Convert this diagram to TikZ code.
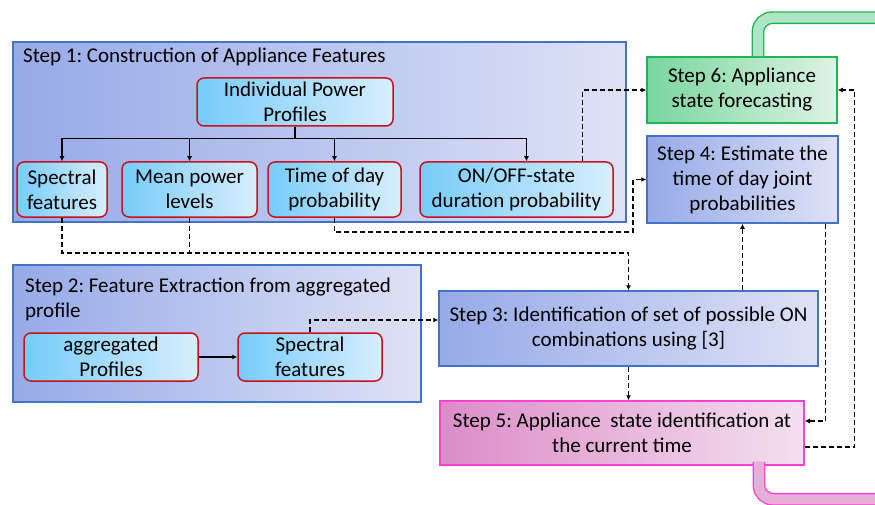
\documentclass[tikz,border=0pt]{standalone}
\usepackage{fontspec}
\setmainfont{Carlito}
\frenchspacing
\usetikzlibrary{positioning,calc,arrows.meta}

\definecolor{frameblue}{RGB}{68,114,196}
\definecolor{frameL}{RGB}{150,170,232}
\definecolor{frameR}{RGB}{222,226,246}
\definecolor{featred}{RGB}{200,16,30}
\definecolor{featL}{RGB}{118,204,250}
\definecolor{featR}{RGB}{216,238,253}
\definecolor{fcgreen}{RGB}{34,178,86}
\definecolor{fcgreenL}{RGB}{120,214,158}
\definecolor{fcgreenR}{RGB}{222,243,228}
\definecolor{idpink}{RGB}{255,64,208}
\definecolor{idpinkL}{RGB}{220,140,200}
\definecolor{idpinkR}{RGB}{244,224,240}

\begin{document}
\begin{tikzpicture}[x=1pt,y=-1pt,font=\fontsize{21}{25}\selectfont,
    frame/.style={draw=frameblue,line width=1.5pt,left color=frameL,right color=frameR,inner sep=0pt},
    feat/.style={draw=featred,line width=1.5pt,rounded corners=7pt,left color=featL,right color=featR,align=center,inner sep=0pt},
    flow/.style={line width=1.3pt,-{Latex[length=5pt,width=5pt]}},
    dflow/.style={flow,dash pattern=on 5pt off 3pt},
    dline/.style={line width=1.3pt,dash pattern=on 5pt off 3pt},
    pipe/.style={line width=1.4pt,double distance=10pt,rounded corners=14pt}]

\useasboundingbox (0,0) rectangle (875,505);

% step 1
\node[frame,minimum width=613pt,minimum height=180pt] (step1) at (319.5,132) {};
\node[anchor=base west,inner sep=0pt] (title1) at (23,63) {Step 1: Construction of Appliance Features};
\node[feat,minimum width=196pt,minimum height=48pt] (ipp) at (295,102) {Individual Power\\Profiles};
\node[feat,minimum width=90pt,minimum height=55pt] (spec1) at (62,189.5) {Spectral\\features};
\node[feat,minimum width=135pt,minimum height=55pt] (mean) at (189.5,189.5) {Mean power\\levels};
\node[feat,minimum width=133pt,minimum height=55pt] (tod) at (334.5,189.5) {Time of day\\probability};
\node[feat,minimum width=193pt,minimum height=55pt] (onoff) at (516.5,189.5) {ON/OFF-state\\duration probability};

% step 2
\node[frame,minimum width=408pt,minimum height=137pt] (step2) at (217,333.5) {};
\node[anchor=north west,align=left,inner sep=0pt] (title2) at (25,278) {Step 2: Feature Extraction from aggregated\\profile};
\node[feat,minimum width=174pt,minimum height=48pt] (agg) at (111,357) {aggregated\\Profiles};
\node[feat,minimum width=144pt,minimum height=48pt] (spec2) at (310,357) {Spectral\\features};

% steps 3 to 6
\node[frame,minimum width=379pt,minimum height=75pt,align=center] (step3) at (628.5,328.5) {Step 3: Identification of set of possible ON\\combinations using [3]};
\node[frame,minimum width=191pt,minimum height=87pt,align=center] (step4) at (742.5,179.5) {Step 4: Estimate the\\time of day joint\\probabilities};
\node[draw=fcgreen,line width=1.5pt,left color=fcgreenL,right color=fcgreenR,minimum width=190pt,minimum height=66pt,align=center,inner sep=0pt] (step6) at (742,90) {Step 6: Appliance\\state forecasting};
\node[draw=idpink,line width=1.5pt,left color=idpinkL,right color=idpinkR,minimum width=364pt,minimum height=64pt,align=center,inner sep=0pt] (step5) at (622,433) {Step 5: Appliance\ \ state identification at\\the current time};

% outgoing pipes
\draw[pipe,draw=fcgreen,double=fcgreenL!60] ([xshift=16pt]step6.north) -- ++(0,-38.5) -- ++(140,0);
\draw[pipe,draw=idpink,double=idpinkL!70] ([xshift=137pt,yshift=4pt]step5.south) -- ++(0,37.5) -- ++(140,0);

% solid arrows
\foreach \n in {spec1,mean,tod}
  \draw[flow] (ipp.south) -- ++(0,12) -| (\n.north);
\draw[flow] (ipp.south) -- ++(0,12) -| ([xshift=10pt]onoff.north);
\draw[flow] (agg) -- (spec2);

% dashed arrows
\coordinate (j1) at (633,232);
\coordinate (j2) at (628.5,253);
\draw[dflow] ([xshift=-31pt]onoff.north east) |- (step6.west);
\draw[dflow] (tod.south) |- (j1) |- (step4.west);
\draw[dflow] (spec1.south) |- (j2) -- (step3.north);
\draw[dline] (mean.south) -- (mean.south |- j2);
\draw[dflow] (spec2.north) |- ([yshift=8.5pt]step3.west);
\draw[dflow] (step4.south |- step3.north) -- (step4.south);
\draw[dflow] (step3.south) -- (step3.south |- step5.north);
\draw[dflow] ([xshift=-13pt]step4.south east) |- ([yshift=12pt]step5.east);
\draw[dflow] ([yshift=-14pt]step5.east) -| ([xshift=17pt]step6.east) -- (step6.east);
\end{tikzpicture}
\end{document}
